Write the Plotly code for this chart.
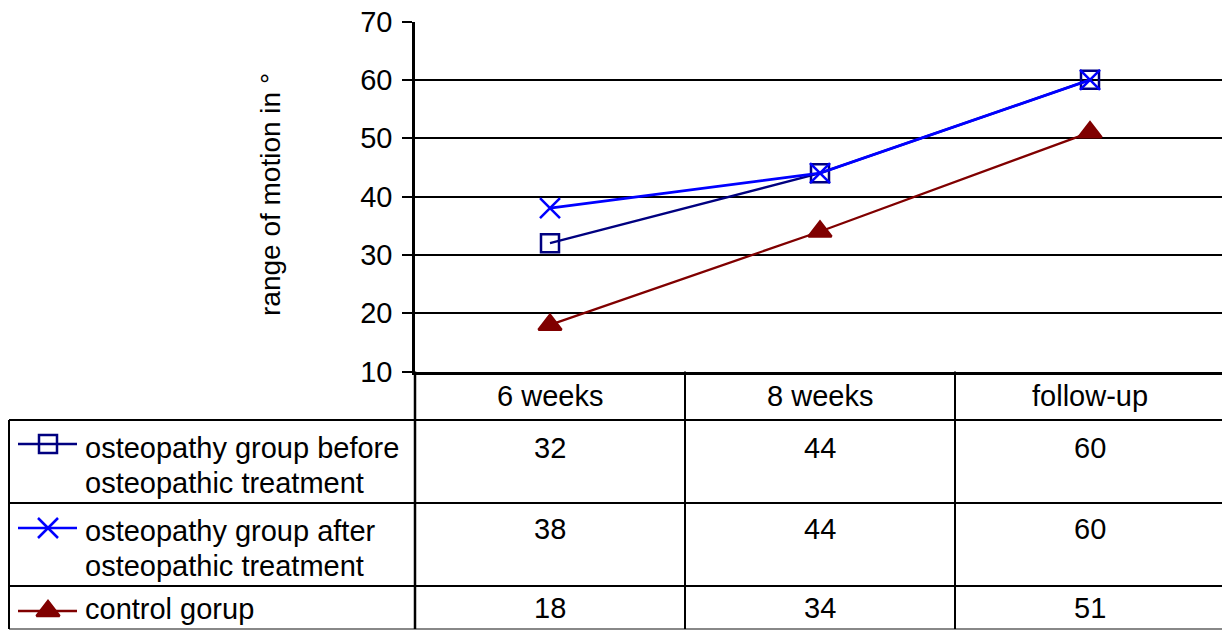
import plotly.graph_objects as go

# ---------------- data ----------------
categories = ["6 weeks", "8 weeks", "follow-up"]
series_labels = [
    ["osteopathy group before", "osteopathic treatment"],
    ["osteopathy group after", "osteopathic treatment"],
    ["control gorup"],
]
before_values = [32, 44, 60]
after_values = [38, 44, 60]
control_values = [18, 34, 51]
y_ticks = [10, 20, 30, 40, 50, 60, 70]
y_title = "range of motion in °"

# ---------------- layout constants (pixels) ----------------
W, H = 1222, 630
PLOT_L, PLOT_T, PLOT_B = 415, 21.5, 371.5
CAT_W = 270.0
TABLE_L = 9
ROW_LINES = [420, 503, 586]
TABLE_BOTTOM = 629
FONT = "Liberation Sans, Arial, sans-serif"
FS = 29
HEADER_Y = 396
VALUE_Y = [448, 529, 608]
LABEL_Y = [[448, 483], [531, 566], [609]]
ICON_Y = [444, 528, 611]

colors = ["#000080", "#0000FF", "#800000"]
symbols = ["square-open", "x-thin-open", "triangle-up"]
msizes = [18, 20, 20]
lwidths = [2.3, 2.8, 2.3]
all_values = [before_values, after_values, control_values]

xs = list(range(len(categories)))

fig = go.Figure()

for lab, vals, c, s, ms, lw in zip(series_labels, all_values, colors, symbols, msizes, lwidths):
    fig.add_trace(go.Scatter(
        x=xs, y=vals, mode="lines+markers", name=" ".join(lab),
        line=dict(color=c, width=lw),
        marker=dict(symbol=s, size=ms, color=c, line=dict(color=c, width=2.5)),
        showlegend=False, cliponaxis=False,
        xaxis="x", yaxis="y",
    ))

# legend icons in the table (overlay pixel axes)
for i, (c, s, ms, lw) in enumerate(zip(colors, symbols, msizes, lwidths)):
    fig.add_trace(go.Scatter(
        x=[18, 48, 77], y=[ICON_Y[i]] * 3, mode="lines",
        line=dict(color=c, width=2.5), showlegend=False, hoverinfo="skip",
        xaxis="x2", yaxis="y2",
    ))
    fig.add_trace(go.Scatter(
        x=[48], y=[ICON_Y[i]], mode="markers",
        marker=dict(symbol=s, size=ms, color=c, line=dict(color=c, width=2.5)),
        showlegend=False, hoverinfo="skip", cliponaxis=False,
        xaxis="x2", yaxis="y2",
    ))

shapes = []
def hline(x0, x1, y, color="black", w=2):
    shapes.append(dict(type="line", xref="x2", yref="y2", x0=x0, x1=x1, y0=y, y1=y,
                       line=dict(color=color, width=w), layer="above"))
def vline(x, y0, y1, color="black", w=2):
    shapes.append(dict(type="line", xref="x2", yref="y2", x0=x, x1=x, y0=y0, y1=y1,
                       line=dict(color=color, width=w), layer="above"))

for y in ROW_LINES:
    hline(TABLE_L, W, y)
hline(TABLE_L, W, TABLE_BOTTOM, color="#888888", w=2)
vline(TABLE_L, ROW_LINES[0], TABLE_BOTTOM)
vline(PLOT_L, PLOT_B, TABLE_BOTTOM, w=2.5)
for k in range(1, len(categories)):
    vline(PLOT_L + CAT_W * k, PLOT_B, TABLE_BOTTOM)

txtfont = dict(family=FONT, size=FS, color="black")
annotations = []
# header labels
for i, cat in enumerate(categories):
    annotations.append(dict(xref="x", yref="y2", x=i, y=HEADER_Y, text=cat, showarrow=False,
                            xanchor="center", yanchor="middle", font=txtfont))
# cell values
for r, vals in enumerate(all_values):
    for i, v in enumerate(vals):
        annotations.append(dict(xref="x", yref="y2", x=i, y=VALUE_Y[r], text=str(v),
                                showarrow=False, xanchor="center", yanchor="middle", font=txtfont))
# row labels
for r, lines in enumerate(series_labels):
    for j, line in enumerate(lines):
        annotations.append(dict(xref="x2", yref="y2", x=83, y=LABEL_Y[r][j], text=line,
                                showarrow=False, xanchor="left", yanchor="middle", font=txtfont))
# y title
annotations.append(dict(xref="x2", yref="y2", x=270, y=195, text=y_title,
                        textangle=-90, showarrow=False, xanchor="center", yanchor="middle",
                        font=dict(family=FONT, size=28, color="black")))

fig.update_layout(
    width=W, height=H,
    margin=dict(l=0, r=0, t=0, b=0, autoexpand=False),
    paper_bgcolor="white", plot_bgcolor="rgba(0,0,0,0)",
    showlegend=False,
    font=txtfont,
    xaxis=dict(domain=[PLOT_L / W, 1], range=[-0.5, -0.5 + (W - PLOT_L) / CAT_W],
               showgrid=False, zeroline=False, showticklabels=False, ticks="",
               showline=True, linecolor="black", linewidth=2.5, anchor="y", fixedrange=True),
    yaxis=dict(domain=[(H - PLOT_B) / H, (H - PLOT_T) / H], range=[10, 70],
               tickvals=y_ticks, ticks="outside", ticklen=10, tickwidth=2, tickcolor="black",
               ticklabelstandoff=4,
               showgrid=True, gridcolor="black", gridwidth=2, zeroline=False,
               showline=True, linecolor="black", linewidth=2.5, anchor="x",
               tickfont=txtfont, fixedrange=True),
    xaxis2=dict(domain=[0, 1], range=[0, W], visible=False, anchor="y2", fixedrange=True),
    yaxis2=dict(domain=[0, 1], range=[H, 0], visible=False, anchor="x2", fixedrange=True),
    shapes=shapes,
    annotations=annotations,
)

fig.write_html("out.html", config={"displayModeBar": False})
